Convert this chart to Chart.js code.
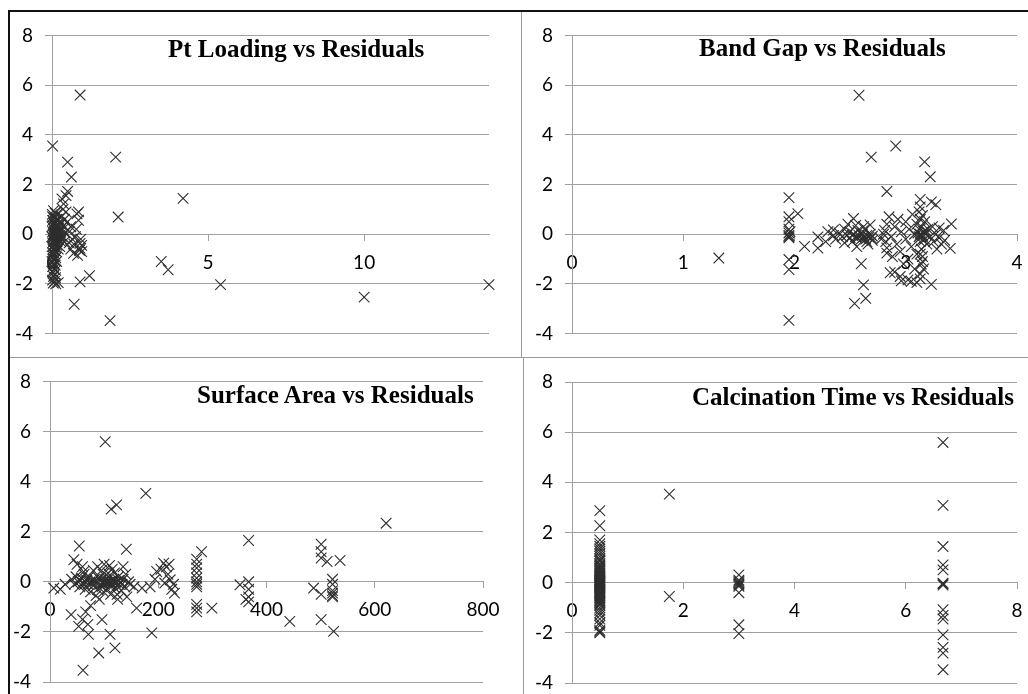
<!DOCTYPE html>
<html>
<head>
<meta charset="utf-8">
<script src="https://cdn.jsdelivr.net/npm/chart.js@4.4.1/dist/chart.umd.min.js"></script>
<style>
  html, body { margin: 0; padding: 0; background: #fff; }
  body { width: 1028px; height: 694px; position: relative; overflow: hidden; }
  canvas { position: absolute; }
  .title { position: absolute; font: bold 25px "Liberation Serif", "Times New Roman", serif; line-height: 25px; white-space: nowrap; color: #000; z-index: 2; }
  .rule { position: absolute; z-index: 3; }
</style>
</head>
<body>
<div class="rule" style="left:8px;top:10px;width:1020px;height:2px;background:#111"></div>
<div class="rule" style="left:8px;top:10px;width:2px;height:684px;background:#111"></div>
<div class="rule" style="left:521px;top:12px;width:1px;height:346px;background:#9a9a9a"></div>
<div class="rule" style="left:10px;top:357px;width:1018px;height:1px;background:#9a9a9a"></div>
<div class="rule" style="left:523px;top:358px;width:1px;height:336px;background:#9a9a9a"></div>

<canvas id="ptChart" width="511" height="345" style="left:10px;top:12px"></canvas>
<canvas id="gapChart" width="540" height="345" style="left:522px;top:12px"></canvas>
<canvas id="areaChart" width="513" height="360" style="left:10px;top:358px"></canvas>
<canvas id="timeChart" width="540" height="360" style="left:524px;top:358px"></canvas>

<div class="title" style="left:168px;top:36px">Pt Loading vs Residuals</div>
<div class="title" style="left:699px;top:35px">Band Gap vs Residuals</div>
<div class="title" style="left:197px;top:382px">Surface Area vs Residuals</div>
<div class="title" style="left:692px;top:384px">Calcination Time vs Residuals</div>

<script>
// Residual axis shared by all four plots
const residualTicks = [-4, -2, 0, 2, 4, 6, 8];

// x tick labels of each plot
const ptTicks = [0, 5, 10];
const gapTicks = [0, 1, 2, 3, 4];
const areaTicks = [0, 200, 400, 600, 800];
const timeTicks = [0, 2, 4, 6, 8];

// Pt loading (wt%) vs residual
const ptPoints = [
  [0.02, 3.55], [0.5, 2.9], [0.62, 2.3], [0.9, 5.6], [2.04, 3.1], [2.12, 0.69], [4.2, 1.44],
  [3.5, -1.1], [3.72, -1.43], [5.4, -2.03], [10, -2.53], [14, -2.03], [1.86, -3.48], [0.71, -2.82],
  [0.9, -1.92], [1.2, -1.67], [0.5, 1.72], [0.32, 1.42], [0.37, 1.22], [0.45, 1.55],
  [0.8, 0.82], [0.85, 0.56], [0.9, -0.37], [0.9, -0.57], [0.69, -0.77], [0.95, -0.45], [0.88, -0.65],
  [0.92, -0.2], [0.6, 0.3], [0.55, 0.1], [0.4, 0.6], [0.45, 0.9], [0.35, 1.0], [0.3, 0.7], [0.5, 0.5],
  [0.65, -0.2], [0.7, -0.4], [0.75, -0.1], [0.78, 0.2], [0.85, 0.9], [0.6, -0.6], [0.4, -0.3],
  [0.3, -0.2], [0.55, -0.35], [0.82, -0.85], [0.95, -0.7], [0.28, 0.4], [0.35, 0.2], [0.42, 0.05], [0.25, -0.5],
  [0.05, 0.95], [0.1, 0.85], [0.15, 0.8], [0.02, 0.7], [0.08, 0.65], [0.2, 0.6], [0.12, 0.5], [0.05, 0.45],
  [0.18, 0.4], [0.03, 0.35], [0.1, 0.3], [0.22, 0.25], [0.06, 0.2], [0.14, 0.15], [0.02, 0.1], [0.09, 0.05],
  [0.17, 0.0], [0.04, -0.02], [0.12, -0.05], [0.2, -0.08], [0.07, -0.1], [0.15, -0.12], [0.03, -0.15],
  [0.1, -0.2], [0.18, -0.22], [0.05, -0.25], [0.13, -0.3], [0.02, -0.35], [0.08, -0.4], [0.16, -0.45],
  [0.04, -0.5], [0.11, -0.55], [0.2, -0.6], [0.06, -0.65], [0.14, -0.7], [0.02, -0.75], [0.09, -0.8],
  [0.05, -0.9], [0.12, -0.95], [0.03, -1.0], [0.08, -1.05], [0.15, -1.1], [0.04, -1.2], [0.1, -1.25],
  [0.02, -1.3], [0.07, -1.4], [0.12, -1.45], [0.03, -1.55], [0.09, -1.6], [0.05, -1.7], [0.11, -1.75],
  [0.02, -1.85], [0.08, -1.9], [0.04, -1.97], [0.12, -2.0], [0.2, -1.95], [0.06, 0.02], [0.1, -0.02],
  [0.14, 0.05], [0.18, -0.15], [0.22, 0.1], [0.25, -0.05], [0.02, 0.55], [0.15, 0.6], [0.08, 0.12], [0.03, -0.6],
  [0.0, 0.3], [0.0, -0.1], [0.0, -0.5], [0.0, -1.1], [0.01, 0.8], [0.01, -1.5], [0.06, -0.3], [0.07, 0.4],
  [0.13, 0.35], [0.16, -0.3], [0.19, 0.2], [0.24, 0.45], [0.26, 0.15], [0.28, -0.3], [0.33, -0.1], [0.38, 0.35]
];

// Band gap (eV) vs residual
const gapPoints = [
  [2.58, 5.59], [2.91, 3.55], [2.69, 3.1], [3.17, 2.91], [3.22, 2.31], [2.83, 1.72], [1.95, 1.47],
  [3.13, 1.4], [3.23, 1.3], [3.27, 1.19], [2.03, 0.83], [1.95, 0.7], [1.95, 0.5], [2.53, 0.63],
  [3.41, 0.41], [1.32, -0.96], [1.95, -1.02], [1.95, -1.42], [1.95, -3.47], [2.6, -1.19], [2.62, -2.04],
  [2.54, -2.79], [2.64, -2.58], [2.9, -1.52], [2.96, -1.88], [3.02, -1.84], [3.13, -1.8], [3.23, -2.02],
  [3.4, -0.57], [3.35, -0.25], [3.34, 0.15], [2.09, -0.49], [2.21, -0.56], [2.21, -0.11], [2.35, 0.17],
  [2.37, -0.2], [2.68, 0.37], [2.83, -0.76],
  [1.95, 0.2], [1.95, 0.05], [1.95, -0.05], [1.95, -0.15], [1.95, -0.1], [1.96, 0.1],
  [2.4, 0.05], [2.43, -0.1], [2.45, 0.2], [2.47, -0.05], [2.5, -0.15], [2.5, 0.1], [2.52, -0.3],
  [2.53, 0.0], [2.55, -0.1], [2.56, -0.5], [2.57, 0.15], [2.58, -0.05], [2.6, -0.2], [2.6, 0.05],
  [2.62, -0.1], [2.63, 0.2], [2.65, -0.05], [2.65, -0.3], [2.67, -0.12], [2.68, 0.0], [2.7, -0.08],
  [2.7, -0.25], [2.45, -0.35], [2.35, -0.05], [2.3, 0.1], [2.28, -0.3], [2.55, 0.35], [2.62, 0.3],
  [2.48, 0.4], [2.66, -0.4],
  [2.8, 0.0], [2.82, -0.3], [2.83, -0.55], [2.83, 0.4], [2.85, 0.7], [2.87, -0.1], [2.88, -0.9],
  [2.9, 0.3], [2.92, -0.4], [2.93, 0.6], [2.95, -0.7], [2.96, 0.1], [2.98, -1.2], [3.0, 0.5],
  [3.0, -0.2], [3.02, -1.0], [3.03, 0.2], [3.05, -0.5], [3.06, 0.8], [3.08, -1.4], [3.08, 0.0],
  [3.1, -0.8], [3.1, 0.4], [3.12, 0.9], [3.12, -0.1], [3.13, 1.1], [3.13, -1.6], [3.13, 0.6],
  [3.13, -0.3], [3.13, 0.0], [3.14, -1.2], [3.14, 0.3], [3.14, -0.6], [3.15, 0.75], [3.15, -0.05],
  [3.15, -0.9], [3.16, 0.1], [3.16, -1.4], [3.17, 0.5], [3.17, -0.2], [3.18, 0.0], [3.19, -0.4],
  [3.2, 0.2], [3.22, -0.1], [3.24, 0.3], [3.25, -0.3], [3.27, 0.0], [3.3, -0.15], [3.3, 0.25],
  [3.32, -0.4], [2.86, -1.55], [2.95, -1.7], [3.05, -1.9], [3.1, -1.95], [2.78, -0.2], [2.81, 0.15], [3.28, -0.6],
  [2.52, -0.05], [2.57, -0.15], [2.61, 0.0], [2.64, -0.2], [2.69, -0.15], [3.11, 0.05], [3.14, -0.1],
  [3.16, -0.25], [3.12, 0.2], [3.18, 0.15], [3.13, -0.8], [3.15, -1.1]
];

// Surface area (m2/g) vs residual
const areaPoints = [
  [102, 5.59], [177, 3.53], [113, 2.9], [123, 3.07], [621, 2.34], [367, 1.65], [54, 1.43], [141, 1.3],
  [501, 1.5], [501, 1.2], [501, 0.95], [512, 0.81], [536, 0.85], [522, 0.1], [522, -0.1], [522, -0.35],
  [522, -0.45], [522, -0.55], [522, -0.6], [524, -1.98], [501, -1.51], [487, -0.25], [501, -0.5],
  [443, -1.58], [351, -0.12], [367, 0.0], [367, -0.3], [367, -0.6], [367, -0.8], [362, -0.7],
  [271, 0.9], [271, 0.7], [271, 0.55], [271, 0.35], [271, 0.15], [271, 0.0], [271, -0.1], [271, -0.2],
  [271, -0.9], [271, -1.05], [271, -1.2], [280, 1.2], [299, -1.05],
  [188, -2.04], [160, -1.05], [197, 0.41], [210, 0.74], [215, 0.6], [220, 0.7], [222, 0.08], [225, -0.3],
  [228, -0.1], [230, -0.45], [218, 0.3], [212, -0.05], [205, 0.5], [170, -0.25], [155, -0.2], [185, -0.2],
  [194, 0.1], [120, -2.64], [111, -2.1], [90, -2.84], [96, -1.51], [61, -3.53], [71, -2.1], [53, -1.78],
  [60, -1.5], [66, -1.2], [70, -1.7], [39, -1.31], [7, -0.25], [28, -0.1], [19, -0.3], [44, 0.88],
  [50, 0.7], [62, 0.4], [75, -0.95],
  [40, 0.1], [45, -0.1], [48, 0.2], [52, 0.0], [55, -0.2], [58, 0.15], [60, -0.05], [63, 0.3], [65, -0.3],
  [68, 0.05], [70, -0.1], [72, 0.2], [75, -0.4], [78, 0.0], [80, -0.15], [82, 0.1], [85, -0.05], [88, -0.3],
  [90, 0.15], [92, -0.1], [94, 0.05], [96, -0.2], [98, 0.3], [100, 0.0], [101, -0.1], [103, 0.1],
  [105, -0.05], [106, -0.3], [108, 0.2], [110, 0.0], [112, -0.15], [114, 0.05], [115, 0.5], [116, -0.1],
  [118, 0.1], [120, -0.25], [122, 0.0], [124, -0.5], [126, 0.2], [128, -0.1], [130, 0.0], [132, -0.35],
  [135, 0.1], [138, -0.2], [140, 0.3], [142, -0.6], [145, 0.0], [148, -0.1], [100, 0.7], [95, 0.45],
  [110, 0.65], [85, -0.55], [88, 0.6], [135, 0.6], [60, 0.6], [80, 0.45], [125, -0.7], [112, -0.5],
  [56, 0.05], [64, -0.1], [74, 0.0], [84, 0.05], [97, -0.05], [104, 0.0], [109, -0.08], [117, 0.02],
  [121, -0.05], [127, 0.05], [133, -0.1], [99, -0.4], [107, 0.35], [91, -0.7], [119, 0.35]
];

// Calcination time (h) vs residual
const timePoints = [
  [0.5, 2.87], [0.5, 2.27], [0.5, 1.7], [0.5, 1.55], [0.5, 1.45], [0.5, 1.35], [0.5, 1.25], [0.5, 1.15],
  [0.5, 1.05], [0.5, 0.95], [0.5, 0.9], [0.5, 0.85], [0.5, 0.75], [0.5, 0.7], [0.5, 0.65], [0.5, 0.6],
  [0.5, 0.55], [0.5, 0.5], [0.5, 0.45], [0.5, 0.4], [0.5, 0.35], [0.5, 0.3], [0.5, 0.25], [0.5, 0.2],
  [0.5, 0.15], [0.5, 0.12], [0.5, 0.1], [0.5, 0.07], [0.5, 0.05], [0.5, 0.02], [0.5, 0.0], [0.5, -0.02],
  [0.5, -0.05], [0.5, -0.07], [0.5, -0.1], [0.5, -0.12], [0.5, -0.15], [0.5, -0.2], [0.5, -0.25],
  [0.5, -0.3], [0.5, -0.35], [0.5, -0.4], [0.5, -0.45], [0.5, -0.5], [0.5, -0.55], [0.5, -0.6],
  [0.5, -0.65], [0.5, -0.7], [0.5, -0.75], [0.5, -0.8], [0.5, -0.85], [0.5, -0.9], [0.5, -1.0],
  [0.5, -1.1], [0.5, -1.2], [0.5, -1.3], [0.5, -1.45], [0.5, -1.6], [0.5, -1.7], [0.5, -1.9],
  [0.5, -1.95], [0.5, -2.0],
  [1.75, 3.53], [1.75, -0.55],
  [3, 0.31], [3, 0.1], [3, 0.0], [3, -0.05], [3, -0.1], [3, 0.05], [3, -0.15], [3, -0.4], [3, -1.68], [3, -2.03],
  [6.67, 5.59], [6.67, 3.08], [6.67, 1.44], [6.67, 0.71], [6.67, 0.51], [6.67, -0.05], [6.67, -0.1],
  [6.67, -0.02], [6.67, -1.08], [6.67, -1.31], [6.67, -1.45], [6.67, -2.08], [6.67, -2.58],
  [6.67, -2.81], [6.67, -3.47]
];

const GRID = '#a0a0a0';
const TICK_FONT = { family: 'Lato, "Open Sans", sans-serif', size: 19 };

function residualPlot(id, points, xMax, xTicks, pad) {
  return new Chart(document.getElementById(id), {
    type: 'scatter',
    data: {
      datasets: [{
        data: points.map(([x, y]) => ({ x, y })),
        pointStyle: 'crossRot',
        pointRadius: 7.5,
        pointHoverRadius: 7.5,
        borderColor: '#2e2e2e',
        backgroundColor: 'transparent',
        borderWidth: 1.1,
        clip: false
      }]
    },
    options: {
      responsive: false,
      animation: false,
      devicePixelRatio: 1,
      events: [],
      layout: { padding: { left: 0, top: pad.top, right: pad.right, bottom: pad.bottom } },
      plugins: { legend: { display: false }, tooltip: { enabled: false }, title: { display: false } },
      scales: {
        x: {
          type: 'linear',
          min: 0,
          max: xMax,
          position: { y: 0 },
          afterBuildTicks: s => { s.ticks = xTicks.map(v => ({ value: v })); },
          grid: { drawOnChartArea: false, drawTicks: true, tickLength: 6, color: GRID },
          border: { color: GRID, width: 1 },
          ticks: { font: TICK_FONT, color: '#000', padding: 11, maxRotation: 0, callback: v => String(v) }
        },
        y: {
          type: 'linear',
          min: -4,
          max: 8,
          afterBuildTicks: s => { s.ticks = residualTicks.map(v => ({ value: v })); },
          afterFit: s => { s.width = pad.left; },
          grid: { color: GRID, tickLength: 7 },
          border: { color: GRID, width: 1 },
          ticks: { font: TICK_FONT, color: '#000', padding: 12, callback: v => String(v) }
        }
      }
    }
  });
}

residualPlot('ptChart', ptPoints, 14, ptTicks, { left: 42, top: 21, right: 32, bottom: 22 });
residualPlot('gapChart', gapPoints, 4, gapTicks, { left: 50, top: 21, right: 45, bottom: 22 });
residualPlot('areaChart', areaPoints, 800, areaTicks, { left: 40, top: 23, right: 40, bottom: 36 });
residualPlot('timeChart', timePoints, 8, timeTicks, { left: 48, top: 24, right: 47, bottom: 35 });
</script>
</body>
</html>
